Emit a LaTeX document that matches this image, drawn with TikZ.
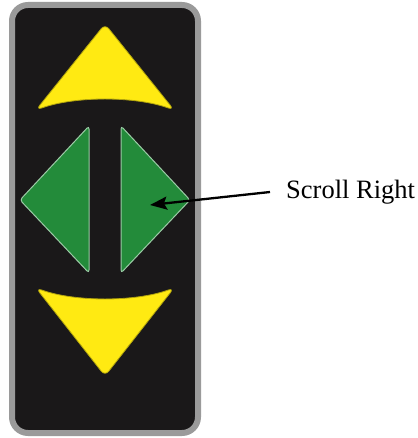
\documentclass[tikz,border=0pt]{standalone}
\usepackage{fontspec}
\setmainfont{Liberation Serif}
\usetikzlibrary{arrows.meta}
\usepackage{xcolor}

\definecolor{panelblack}{HTML}{1A1819}
\definecolor{panelgray}{HTML}{9A9A9A}
\definecolor{keyyellow}{HTML}{FFEA12}
\definecolor{keygreen}{HTML}{238B3A}

\tikzset{
  yellowkey/.style={fill=keyyellow, draw=keyyellow!70!black, line width=0.8pt, rounded corners=6pt},
  greenkey/.style={fill=keygreen, draw=keygreen!45!white, line width=1pt, rounded corners=3pt}
}

\begin{document}
\begin{tikzpicture}[x=1pt,y=-1pt]

\useasboundingbox (0,0) rectangle (417,438);

% panel
\draw[fill=panelblack, draw=panelgray, line width=6pt, rounded corners=16pt] (12,5) rectangle (198,433);

% up and down
\draw[yellowkey] (105,24)--(174,110) .. controls (135,96) and (75,96) .. (36,110)--cycle;
\draw[yellowkey] (105,376)--(36,288) .. controls (75,302) and (135,302) .. (174,288)--cycle;

% left and right halves
\draw[greenkey] (89,126)--(20,200)--(89,273)--cycle;
\draw[greenkey] (121,126)--(190,200)--(121,273)--cycle;

\node[anchor=west, inner sep=0pt, inner xsep=16pt] (scrollright) at (270,192) {\fontsize{26.5}{30}\selectfont Scroll Right};
\coordinate (righttip) at (150,205);

\draw[-{Stealth[length=17pt,width=13pt,inset=3pt]}, line width=2.3pt] (scrollright.west)--(righttip);

\end{tikzpicture}
\end{document}
